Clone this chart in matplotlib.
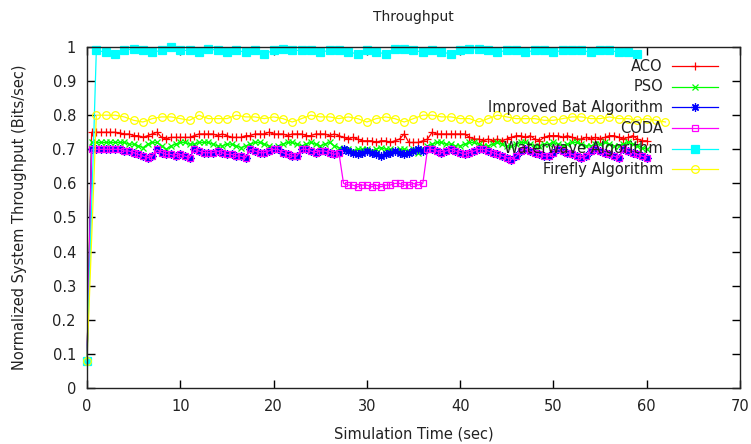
import matplotlib
matplotlib.use("Agg")
import matplotlib.pyplot as plt
from matplotlib.lines import Line2D

# ---------------- data ----------------
t_half = [i * 0.5 for i in range(121)]        # 0 .. 60 step 0.5
t_one_cyan = list(range(60))                   # 0 .. 59
t_one_yellow = list(range(63))                 # 0 .. 62

aco = [0.08,
       0.75, 0.75, 0.75, 0.75, 0.75, 0.75, 0.748, 0.745, 0.745, 0.74,
       0.74, 0.735, 0.74, 0.745, 0.75, 0.735, 0.73, 0.735, 0.735, 0.735,
       0.735, 0.735, 0.74, 0.745, 0.745, 0.745, 0.745, 0.74, 0.745, 0.74,
       0.735, 0.735, 0.735, 0.74, 0.74, 0.745, 0.745, 0.745, 0.75, 0.745,
       0.745, 0.745, 0.74, 0.745, 0.745, 0.745, 0.74, 0.74, 0.745, 0.745,
       0.745, 0.74, 0.745, 0.74, 0.735, 0.73, 0.735, 0.73, 0.725, 0.725,
       0.725, 0.72, 0.725, 0.725, 0.72, 0.725, 0.73, 0.745, 0.72, 0.72,
       0.72, 0.725, 0.73, 0.75, 0.745, 0.745, 0.745, 0.745, 0.745, 0.745,
       0.745, 0.735, 0.73, 0.73, 0.725, 0.73, 0.725, 0.73, 0.725, 0.73,
       0.735, 0.74, 0.74, 0.735, 0.74, 0.73, 0.725, 0.735, 0.74, 0.74,
       0.74, 0.735, 0.74, 0.735, 0.73, 0.73, 0.735, 0.73, 0.735, 0.73,
       0.735, 0.74, 0.74, 0.735, 0.73, 0.735, 0.74, 0.73, 0.725, 0.725]

pso = [0.08,
       0.72, 0.72, 0.72, 0.72, 0.72, 0.72, 0.72, 0.72, 0.715, 0.715,
       0.71, 0.705, 0.715, 0.72, 0.72, 0.71, 0.70, 0.71, 0.715, 0.72,
       0.72, 0.715, 0.715, 0.72, 0.72, 0.72, 0.715, 0.71, 0.71, 0.715,
       0.715, 0.71, 0.705, 0.71, 0.715, 0.72, 0.72, 0.715, 0.71, 0.705,
       0.71, 0.715, 0.72, 0.72, 0.715, 0.71, 0.715, 0.72, 0.715, 0.71,
       0.715, 0.72, 0.71, 0.705, 0.70, 0.70, 0.695, 0.70, 0.70, 0.70,
       0.695, 0.70, 0.705, 0.70, 0.70, 0.695, 0.70, 0.70, 0.695, 0.70,
       0.69, 0.70, 0.71, 0.715, 0.72, 0.72, 0.715, 0.715, 0.71, 0.71,
       0.715, 0.72, 0.72, 0.715, 0.71, 0.71, 0.715, 0.72, 0.715, 0.71,
       0.71, 0.715, 0.72, 0.72, 0.715, 0.71, 0.71, 0.715, 0.715, 0.72,
       0.715, 0.71, 0.715, 0.72, 0.72, 0.715, 0.71, 0.71, 0.715, 0.715,
       0.72, 0.715, 0.71, 0.71, 0.715, 0.72, 0.715, 0.71, 0.705, 0.70]

iba = [0.08,
       0.70, 0.70, 0.70, 0.70, 0.70, 0.70, 0.70, 0.695, 0.695, 0.69,
       0.685, 0.68, 0.675, 0.68, 0.70, 0.69, 0.685, 0.685, 0.68, 0.685,
       0.68, 0.675, 0.70, 0.695, 0.69, 0.69, 0.69, 0.695, 0.69, 0.685,
       0.685, 0.68, 0.68, 0.675, 0.70, 0.695, 0.69, 0.69, 0.695, 0.70,
       0.70, 0.69, 0.685, 0.68, 0.68, 0.70, 0.70, 0.695, 0.69, 0.695,
       0.695, 0.69, 0.685, 0.69,
       0.70, 0.695, 0.69, 0.685, 0.69, 0.695, 0.69, 0.685, 0.68, 0.685,
       0.69, 0.695, 0.69, 0.685, 0.69, 0.695, 0.70, 0.695,
       0.70, 0.70, 0.695, 0.69, 0.695, 0.70, 0.695, 0.69,
       0.685, 0.69, 0.695, 0.70, 0.70, 0.695, 0.69, 0.685, 0.68, 0.675,
       0.67, 0.68, 0.695, 0.70, 0.695, 0.69, 0.685, 0.68, 0.68, 0.69,
       0.70, 0.695, 0.69, 0.685, 0.68, 0.675, 0.68, 0.695, 0.70, 0.695,
       0.69, 0.685, 0.68, 0.675, 0.70, 0.695, 0.69, 0.685, 0.68, 0.675]

coda = [0.08,
        0.70, 0.70, 0.70, 0.70, 0.70, 0.70, 0.70, 0.695, 0.695, 0.69,
        0.685, 0.68, 0.675, 0.68, 0.70, 0.69, 0.685, 0.685, 0.68, 0.685,
        0.68, 0.675, 0.70, 0.695, 0.69, 0.69, 0.69, 0.695, 0.69, 0.685,
        0.685, 0.68, 0.68, 0.675, 0.70, 0.695, 0.69, 0.69, 0.695, 0.70,
        0.70, 0.69, 0.685, 0.68, 0.68, 0.70, 0.70, 0.695, 0.69, 0.695,
        0.695, 0.69, 0.685, 0.69,
        0.60, 0.595, 0.595, 0.59, 0.595, 0.595, 0.59, 0.595, 0.59, 0.595,
        0.595, 0.60, 0.60, 0.595, 0.595, 0.60, 0.595, 0.60,
        0.70, 0.70, 0.695, 0.69, 0.695, 0.70, 0.695, 0.69,
        0.685, 0.69, 0.695, 0.70, 0.70, 0.695, 0.69, 0.685, 0.68, 0.675,
        0.67, 0.68, 0.695, 0.70, 0.695, 0.69, 0.685, 0.68, 0.68, 0.69,
        0.70, 0.695, 0.69, 0.685, 0.68, 0.675, 0.68, 0.695, 0.70, 0.695,
        0.69, 0.685, 0.68, 0.675, 0.70, 0.695, 0.69, 0.685, 0.68, 0.675]

waterwave = [0.08, 0.99, 0.985, 0.98, 0.99, 0.995, 0.99, 0.985, 0.99, 1.0,
             0.99, 0.99, 0.985, 0.995, 0.99, 0.985, 0.99, 0.985, 0.99, 0.98,
             0.99, 0.995, 0.99, 0.99, 0.99, 0.985, 0.99, 0.99, 0.985, 0.98,
             0.99, 0.985, 0.98, 0.995, 0.995, 0.99, 0.985, 0.99, 0.985, 0.98,
             0.99, 0.995, 0.995, 0.99, 0.985, 0.99, 0.99, 0.985, 0.99, 0.99,
             0.985, 0.99, 0.99, 0.99, 0.985, 0.99, 0.99, 0.985, 0.985, 0.98]

firefly = [0.08, 0.80, 0.80, 0.80, 0.795, 0.785, 0.78, 0.79, 0.795, 0.795,
           0.79, 0.785, 0.80, 0.79, 0.79, 0.79, 0.80, 0.795, 0.795, 0.79,
           0.795, 0.79, 0.78, 0.79, 0.80, 0.795, 0.795, 0.79, 0.795, 0.79,
           0.78, 0.79, 0.795, 0.79, 0.78, 0.79, 0.80, 0.80, 0.795, 0.795,
           0.79, 0.79, 0.78, 0.79, 0.80, 0.795, 0.79, 0.79, 0.79, 0.785,
           0.785, 0.79, 0.795, 0.795, 0.79, 0.79, 0.795, 0.79, 0.79, 0.785,
           0.79, 0.785, 0.78]

names = ["ACO", "PSO", "Improved Bat Algorithm", "CODA",
         "Waterwave Algorithm", "Firefly Algorithm"]
x_ticks = [0, 10, 20, 30, 40, 50, 60, 70]
y_ticks = [0, 0.1, 0.2, 0.3, 0.4, 0.5, 0.6, 0.7, 0.8, 0.9, 1]
y_tick_labels = ["0", "0.1", "0.2", "0.3", "0.4", "0.5", "0.6", "0.7", "0.8", "0.9", "1"]

# ---------------- figure ----------------
plt.rcParams['font.family'] = ['DejaVu Sans']
fig = plt.figure(figsize=(7.51, 4.44), dpi=100)
ax = fig.add_axes([87 / 751, 1 - 388 / 444, 653 / 751, 341 / 444])

styles = [
    dict(color="#ff0000", marker="+", ms=6, mew=0.9, mfc="none"),
    dict(color="#00ff00", marker="x", ms=4.5, mew=0.9, mfc="none"),
    dict(color="#0000ff", marker=(8, 2, 0), ms=6, mew=0.9, mfc="none"),
    dict(color="#ff00ff", marker="s", ms=4.5, mew=0.9, mfc="none"),
    dict(color="#00ffff", marker="s", ms=6, mew=0.9),
    dict(color="#ffff00", marker="o", ms=5.5, mew=0.9, mfc="none"),
]
series = [(t_half, aco), (t_half, pso), (t_half, iba), (t_half, coda),
          (t_one_cyan, waterwave), (t_one_yellow, firefly)]

for (xs, ys), st in zip(series, styles):
    ax.plot(xs, ys, lw=0.9, clip_on=False, **st)

ax.set_xlim(0, 70)
ax.set_ylim(0, 1)
ax.set_xticks(x_ticks)
ax.set_yticks(y_ticks)
ax.set_yticklabels(y_tick_labels)
ax.tick_params(direction="in", length=6, width=1, top=True, right=True,
               labelsize=10.5, colors="black", pad=8)
ax.tick_params(axis="x", labelcolor="#222222")
ax.tick_params(axis="y", labelcolor="#222222")
for s in ax.spines.values():
    s.set_linewidth(1.0)
    s.set_color("#222222")

ax.set_xlabel("Simulation Time (sec)", fontsize=10.5, color="#222222", labelpad=9)
ax.set_ylabel("Normalized System Throughput (Bits/sec)", fontsize=10.5,
              color="#222222", labelpad=18)
ax.set_title("Throughput", fontsize=10, color="#222222", pad=19)

# gnuplot-style key (right-aligned text, sample to the right)
row0 = (388 - 67) / 340
step = 20.6 / 340
for i, (name, st) in enumerate(zip(names, styles)):
    yk = row0 - i * step
    ax.text(0.882, yk, name, transform=ax.transAxes, ha="right", va="center",
            fontsize=10.5, color="#222222")
    ax.add_line(Line2D([0.896, 0.966], [yk, yk], transform=ax.transAxes,
                       color=st["color"], lw=0.9))
    mst = {k: v for k, v in st.items() if k != "color"}
    ax.add_line(Line2D([0.931], [yk], transform=ax.transAxes, color=st["color"],
                       linestyle="none", **mst))

fig.savefig("out.png", dpi=100)
